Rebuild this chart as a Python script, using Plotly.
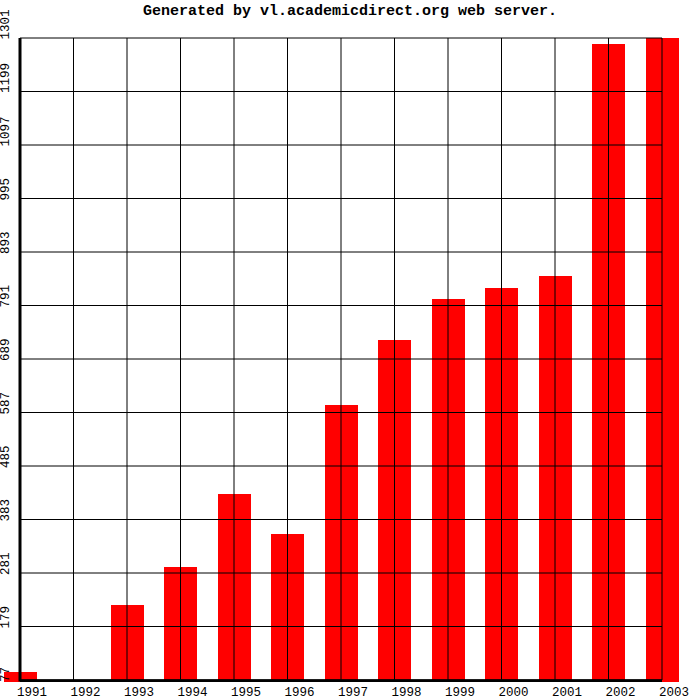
import plotly.graph_objects as go

years = ["1991", "1992", "1993", "1994", "1995", "1996", "1997",
         "1998", "1999", "2000", "2001", "2002", "2003"]
values = [93, 0, 220, 292, 432, 355, 601, 725, 803, 824, 847, 1290, 1301]
y_ticks = [77, 179, 281, 383, 485, 587, 689, 791, 893, 995, 1097, 1199, 1301]
y_ticktext = [str(v) for v in y_ticks]

FONT = "Liberation Mono"
x_pos = list(range(len(years)))

fig = go.Figure()
fig.add_trace(go.Bar(
    x=x_pos, y=values, width=0.617,
    marker=dict(color="#ff0000", line=dict(width=0)),
    hoverinfo="skip",
))

shapes = []
ymin, ymax = y_ticks[0], y_ticks[-1]
for xi in x_pos:
    shapes.append(dict(type="line", xref="x", yref="y", x0=xi, x1=xi,
                       y0=ymin, y1=ymax, line=dict(color="black", width=1),
                       layer="above"))
for yv in y_ticks:
    shapes.append(dict(type="line", xref="x", yref="y", x0=x_pos[0], x1=x_pos[-1],
                       y0=yv, y1=yv, line=dict(color="black", width=1),
                       layer="above"))
# thick axes
shapes.append(dict(type="line", xref="x", yref="y", x0=x_pos[0], x1=x_pos[0],
                   y0=ymin - 3, y1=ymax, line=dict(color="black", width=3),
                   layer="above"))
shapes.append(dict(type="line", xref="x", yref="y", x0=x_pos[0], x1=x_pos[-1],
                   y0=ymin - 1.5, y1=ymin - 1.5, line=dict(color="black", width=3),
                   layer="above"))

annotations = []
for yv, t in zip(y_ticks, y_ticktext):
    annotations.append(dict(
        x=5.5 / 700, xref="paper", y=yv, yref="y", text=t, showarrow=False,
        textangle=-90, xanchor="center", yanchor="bottom", yshift=-3,
        font=dict(family=FONT, size=12.5, color="black"), borderpad=0,
    ))

k = 1224 / 642.0
fig.update_layout(
    width=700, height=700,
    margin=dict(l=0, r=0, t=20, b=18, pad=0),
    paper_bgcolor="white", plot_bgcolor="white",
    showlegend=False,
    title=dict(text="Generated by vl.academicdirect.org web server.",
               x=0.5, xanchor="center", y=1 - 10 / 700, yref="container",
               yanchor="middle",
               font=dict(family=FONT, size=15, color="black", weight="bold")),
    xaxis=dict(range=[-20 / 53.5, 680 / 53.5], showgrid=False, zeroline=False,
               showline=False, tickmode="array", tickvals=x_pos, ticktext=years,
               ticks="", ticklabelshift=12, ticklabelstandoff=0,
               tickfont=dict(family=FONT, size=12.5, color="black"),
               automargin=False),
    yaxis=dict(range=[77 - 2 * k, 1301 + 18 * k], showgrid=False, zeroline=False,
               showline=False, showticklabels=False, ticks="", automargin=False),
    shapes=shapes,
    annotations=annotations,
    bargap=0,
)

fig.write_html("out.html",
               config={"displayModeBar": False},
               post_script="document.body.style.margin='0';document.body.style.overflow='hidden';")
